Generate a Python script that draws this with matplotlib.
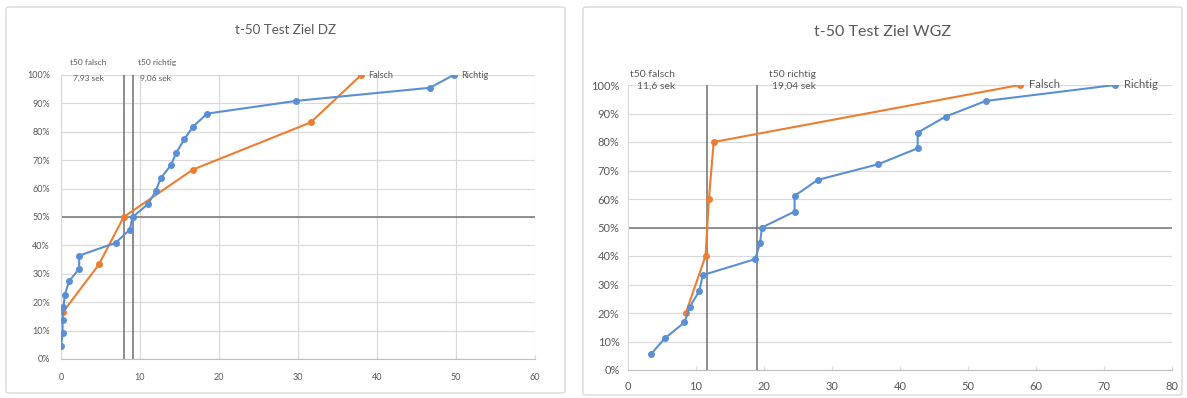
import matplotlib
matplotlib.use("Agg")
import matplotlib.pyplot as plt
from matplotlib.patches import FancyBboxPatch
from matplotlib.ticker import PercentFormatter

# --- Ziel DZ ---
dz_richtig_t = [0.0, 0.2, 0.2, 0.3, 0.5, 1.0, 2.3, 2.3, 6.9, 8.7, 9.06, 11.0,
                12.0, 12.6, 13.9, 14.6, 15.6, 16.7, 18.5, 29.8, 46.7, 49.7]
dz_richtig_p = [4.5, 9.1, 13.6, 18.2, 22.7, 27.3, 31.8, 36.4, 40.9, 45.5, 50.0,
                54.5, 59.1, 63.6, 68.2, 72.7, 77.3, 81.8, 86.4, 90.9, 95.5, 100.0]
dz_falsch_t = [0.3, 4.8, 7.93, 16.7, 31.6, 38.0]
dz_falsch_p = [16.7, 33.3, 50.0, 66.7, 83.3, 100.0]
dz_t50 = {"falsch": 7.93, "richtig": 9.06}

# --- Ziel WGZ ---
wgz_richtig_t = [3.4, 5.4, 8.3, 9.1, 10.5, 11.0, 18.7, 19.4, 19.7, 24.5, 24.5,
                 27.9, 36.8, 42.6, 42.6, 46.7, 52.6, 71.6]
wgz_richtig_p = [5.6, 11.1, 16.7, 22.2, 27.8, 33.3, 38.9, 44.4, 50.0, 55.6, 61.1,
                 66.7, 72.2, 77.8, 83.3, 88.9, 94.4, 100.0]
wgz_falsch_t = [8.5, 11.4, 11.9, 12.6, 57.6]
wgz_falsch_p = [20.0, 40.0, 60.0, 80.0, 100.0]
wgz_t50 = {"falsch": 11.6, "richtig": 19.04}

BLUE = "#5b8fd4"
ORANGE = "#ed7d31"
TXT = "#595959"
GRID = "#d9d9d9"
DARK = "#7f7f7f"

plt.rcParams["font.family"] = ["Lato", "DejaVu Sans"]

W, H = 1187, 398
fig = plt.figure(figsize=(W / 100, H / 100), dpi=100)
fig.patch.set_facecolor("white")


def fx(px):
    return px / W


def fy(py):
    return 1 - py / H


# chart frames
frames = [(6, 7, 565, 393), (583, 7, 1182, 395)]
for x0, y0, x1, y1 in frames:
    fig.patches.append(FancyBboxPatch(
        (fx(x0), fy(y1)), fx(x1 - x0), (y1 - y0) / H,
        boxstyle="round,pad=0,rounding_size=0.004", transform=fig.transFigure,
        facecolor="none", edgecolor=GRID, linewidth=1.0, zorder=-1))


def panel(rect, frame, title, title_y, title_size, xmax, rt, rp, ft, fp, t50,
          vgrid, tick_size, pads, lbl, lbl_size):
    ax = fig.add_axes(rect)
    ax.set_facecolor("none")
    ax.set_xlim(0, xmax)
    ax.set_ylim(0, 100)
    ax.set_xticks(range(0, xmax + 1, 10))
    ax.set_yticks(range(0, 101, 10))
    ax.yaxis.set_major_formatter(PercentFormatter(decimals=0))
    ax.tick_params(axis="both", colors=TXT, labelsize=tick_size, length=0)
    ax.tick_params(axis="y", pad=pads[1])
    ax.tick_params(axis="x", length=3, color=GRID, direction="in", pad=pads[0])
    for s in ["top", "right"]:
        ax.spines[s].set_visible(False)
    ax.spines["bottom"].set_color("#bfbfbf")
    ax.spines["left"].set_color(GRID)
    ax.grid(axis="y", color=GRID, linewidth=0.9)
    if vgrid:
        ax.grid(axis="x", color=GRID, linewidth=0.9)
    ax.set_axisbelow(True)

    ax.axhline(50, color=DARK, linewidth=1.2, zorder=1)
    for key in ("falsch", "richtig"):
        ax.axvline(t50[key], color="#6f6f6f", linewidth=1.1, zorder=1)

    ax.plot(ft, fp, color=ORANGE, marker="o", markersize=4, linewidth=1.5, zorder=3)
    ax.plot(rt, rp, color=BLUE, marker="o", markersize=4, linewidth=1.5, zorder=4)

    ax.text(ft[-1] + lbl[0], fp[-1], "Falsch", color=TXT, fontsize=lbl_size,
            va="center", ha="left", clip_on=False)
    ax.text(rt[-1] + lbl[0], rp[-1], "Richtig", color=TXT, fontsize=lbl_size,
            va="center", ha="left", clip_on=False)

    for key, name in (("falsch", "t50 falsch"), ("richtig", "t50 richtig")):
        x0, dx, y_top, y_bot = lbl[1][key]
        ax.text(x0, y_top, name, color=TXT, fontsize=tick_size - 0.5,
                ha="left", va="center", clip_on=False)
        val = f"{t50[key]:.2f}".rstrip("0").replace(".", ",")
        ax.text(x0 + dx, y_bot, f"{val} sek", color=TXT, fontsize=tick_size - 0.5,
                ha="left", va="center", clip_on=False)

    fig.text(fx((frame[0] + frame[2]) / 2), title_y, title, color=TXT,
             fontsize=title_size, ha="center", va="center")
    return ax


panel([fx(61), fy(359), fx(535 - 61), (359 - 75) / H], frames[0],
      "t-50 Test Ziel DZ", fy(30), 9.6, 60,
      dz_richtig_t, dz_richtig_p, dz_falsch_t, dz_falsch_p, dz_t50,
      True, 6.5, (10, 8),
      (0.9, {"falsch": (1.1, 0.4, 104.5, 98.8), "richtig": (9.7, 0.3, 104.5, 98.8)}),
      6.5)

panel([fx(628), fy(370), fx(1172 - 628), (370 - 85) / H], frames[1],
      "t-50 Test Ziel WGZ", fy(32), 11.5, 80,
      wgz_richtig_t, wgz_richtig_p, wgz_falsch_t, wgz_falsch_p, wgz_t50,
      False, 8, (8, 6),
      (1.4, {"falsch": (0.3, 1.0, 103.8, 99.6), "richtig": (20.8, 0.4, 103.8, 99.6)}),
      8)

fig.savefig("out.png", dpi=100, facecolor="white")
